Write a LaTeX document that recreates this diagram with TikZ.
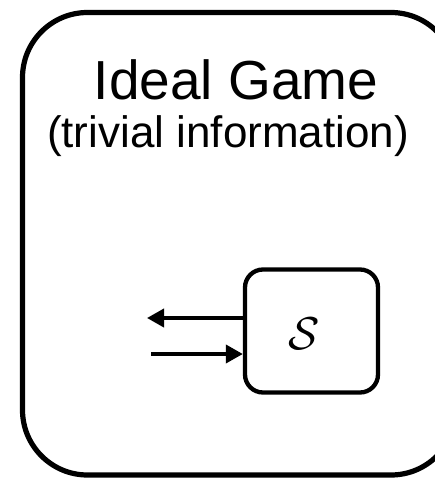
\RequirePackage{fix-cm}
\documentclass[tikz,border=0pt]{standalone}
\usepackage{fontspec}
\setmainfont{Liberation Sans}
\usetikzlibrary{arrows.meta}
\begin{document}
\begin{tikzpicture}[x=1pt,y=-1pt,
  frame/.style={draw=black, line width=5.2pt, rounded corners=65pt},
  simbox/.style={draw=black, line width=4.3pt, rounded corners=18pt, minimum width=133pt, minimum height=123pt, inner sep=0pt},
  msg/.style={line width=3.8pt, -{Triangle[length=17pt,width=18pt]}}
]
\useasboundingbox (0,0) rectangle (434,478);
% outer game frame, running past the right edge
\draw[frame] (22.5,12.5) rectangle (456,475);
\node[font=\fontsize{55}{55}\selectfont, anchor=base] (title) at (236,100) {Ideal Game};
\node[font=\fontsize{44}{44}\selectfont, anchor=base] (sub) at (228,148) {(trivial information)};
% simulator
\node[simbox] (sim) at (311.5,331) {};
\node[font=\fontsize{46}{46}\selectfont] (slabel) at (304,334) {$\mathcal{S}$};
\coordinate (outend) at (147,318);
\coordinate (instart) at (151,354);
\draw[msg] (sim.west |- outend) -- (outend);
\draw[msg] (instart) -- (sim.west |- instart);
\end{tikzpicture}
\end{document}
